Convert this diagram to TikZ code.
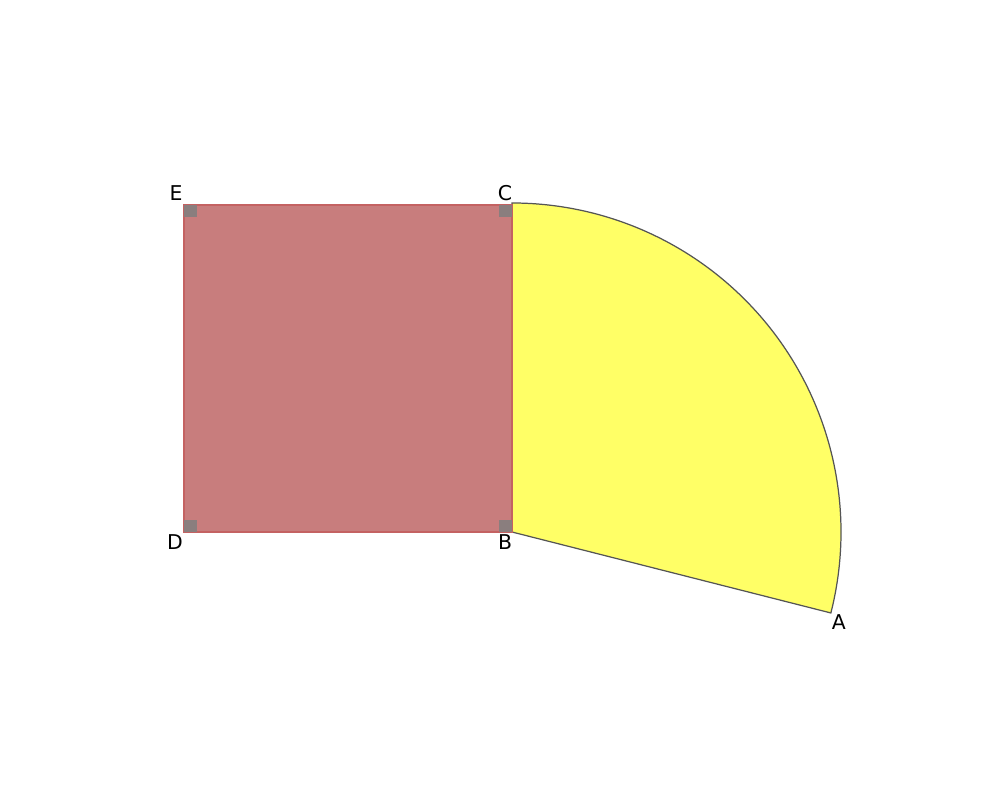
\documentclass[tikz,border=0pt]{standalone}
\usepackage{fontspec}
\setmainfont{DejaVu Sans}
\usepackage{xcolor}
\definecolor{squarefill}{HTML}{C87D7D}
\definecolor{squareedge}{HTML}{C46262}
\definecolor{sectorfill}{HTML}{FFFF66}
\definecolor{sectoredge}{HTML}{555555}
\definecolor{marker}{HTML}{8A7E7E}
\usepackage{tikz}
\usetikzlibrary{calc, positioning}
\tikzset{
  sqr/.style={fill=squarefill, draw=squareedge, line width=0.35pt},
  sec/.style={fill=sectorfill, draw=sectoredge, line width=0.35pt},
  rmark/.style={fill=marker, draw=none},
  lbl/.style={font=\fontsize{5.8}{7}\selectfont, inner sep=0pt}
}
\begin{document}
\begin{tikzpicture}

  %% frame
  \useasboundingbox (0,0) rectangle (10,8);

  %% points
  \coordinate (B) at (5.12,2.68);
  \coordinate (C) at (5.12,5.95);
  \coordinate (D) at (1.84,2.68);
  \coordinate (E) at (1.84,5.95);
  \coordinate (A) at ($(B)+(-14.25:3.29)$);

  %% sector
  \draw[sec] (B) -- (A) arc[start angle=-14.25, end angle=90, radius=3.29] -- (B) -- cycle;

  %% square
  \draw[sqr] (D) -- (B) -- (C) -- (E) -- cycle;

  %% right angle marks
  \fill[rmark] (D) rectangle ++(0.13,0.12);
  \fill[rmark] (E) rectangle ++(0.13,-0.12);
  \fill[rmark] (C) rectangle ++(-0.13,-0.12);
  \fill[rmark] (B) rectangle ++(-0.13,0.12);

  %% labels
  \node[lbl] (lA) at ($(A)+(0.08,-0.095)$) {A};
  \node[lbl] (lB) at ($(B)+(-0.07,-0.10)$) {B};
  \node[lbl] (lC) at ($(C)+(-0.07,0.12)$) {C};
  \node[lbl] (lD) at ($(D)+(-0.09,-0.10)$) {D};
  \node[lbl] (lE) at ($(E)+(-0.08,0.12)$) {E};

\end{tikzpicture}
\end{document}
